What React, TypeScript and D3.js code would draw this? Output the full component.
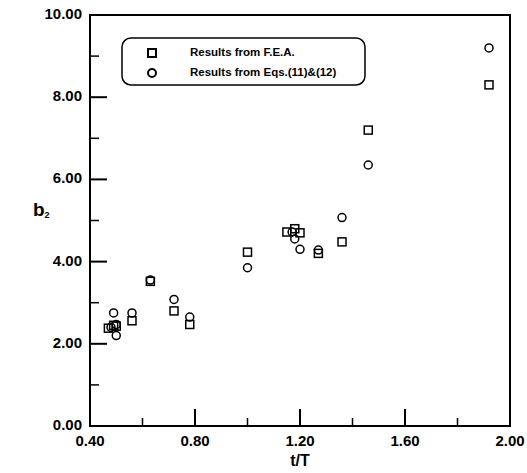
import * as d3 from "d3";

// t/T vs b2 scatter
const feaPoints: [number, number][] = [
  [0.47, 2.38], [0.49, 2.45], [0.5, 2.43], [0.56, 2.56], [0.63, 3.52],
  [0.72, 2.8], [0.78, 2.47], [1.0, 4.23], [1.15, 4.72], [1.18, 4.8],
  [1.2, 4.7], [1.27, 4.2], [1.36, 4.48], [1.46, 7.2], [1.92, 8.3],
];
const eqPoints: [number, number][] = [
  [0.48, 2.4], [0.49, 2.75], [0.5, 2.2], [0.5, 2.47], [0.56, 2.75],
  [0.63, 3.55], [0.72, 3.08], [0.78, 2.65], [1.0, 3.85], [1.17, 4.72],
  [1.18, 4.55], [1.2, 4.3], [1.27, 4.28], [1.36, 5.07], [1.46, 6.35],
  [1.92, 9.2],
];
const xTicks = [0.4, 0.8, 1.2, 1.6, 2.0];
const xMinor = [0.6, 1.0, 1.4, 1.8];
const yTicks = [0, 2, 4, 6, 8, 10];
const yMinor = [1, 3, 5, 7, 9];
const legendLabels = ["Results from F.E.A.", "Results from Eqs.(11)&(12)"];

const W = 527;
const H = 473;
const left = 90, right = 510, top = 15, bottom = 426;

export default function App() {
  const x = d3.scaleLinear().domain([0.4, 2.0]).range([left, right]);
  const y = d3.scaleLinear().domain([0, 10]).range([bottom, top]);
  const font = "'Liberation Sans', Arial, sans-serif";
  const ms = 8;

  return (
    <svg width={W} height={H} style={{ position: "absolute", left: 0, top: 0, background: "#fff" }}>
      <rect x={left} y={top} width={right - left} height={bottom - top} fill="none" stroke="#000" strokeWidth={2} />
      {xTicks.map((t) => (
        <g key={"xt" + t}>
          <line x1={x(t)} x2={x(t)} y1={bottom} y2={bottom - 17} stroke="#000" strokeWidth={2} />
          <text x={x(t)} y={442} textAnchor="middle" dominantBaseline="middle" fontFamily={font} fontSize={15} fontWeight="bold">
            {t.toFixed(2)}
          </text>
        </g>
      ))}
      {xMinor.map((t) => (
        <line key={"xm" + t} x1={x(t)} x2={x(t)} y1={bottom} y2={bottom - 8} stroke="#000" strokeWidth={1.5} />
      ))}
      {yTicks.map((t) => (
        <g key={"yt" + t}>
          <line x1={left} x2={left + 17} y1={y(t)} y2={y(t)} stroke="#000" strokeWidth={2} />
          <text x={82} y={y(t)} textAnchor="end" dominantBaseline="middle" fontFamily={font} fontSize={15} fontWeight="bold">
            {t.toFixed(2)}
          </text>
        </g>
      ))}
      {yMinor.map((t) => (
        <line key={"ym" + t} x1={left} x2={left + 9} y1={y(t)} y2={y(t)} stroke="#000" strokeWidth={1.5} />
      ))}
      <text x={300} y={462} textAnchor="middle" dominantBaseline="middle" fontFamily={font} fontSize={16} fontWeight="bold">
        t/T
      </text>
      <text x={33} y={216} fontFamily={font} fontSize={19} fontWeight="bold">
        b<tspan fontSize={9} dy={2}>2</tspan>
      </text>
      {feaPoints.map(([a, b], i) => (
        <rect key={"f" + i} x={x(a) - ms / 2} y={y(b) - ms / 2} width={ms} height={ms} fill="none" stroke="#000" strokeWidth={1.5} />
      ))}
      {eqPoints.map(([a, b], i) => (
        <circle key={"e" + i} cx={x(a)} cy={y(b)} r={ms / 2} fill="none" stroke="#000" strokeWidth={1.5} />
      ))}
      <rect x={122} y={38} width={243} height={47} rx={9} fill="#fff" stroke="#000" strokeWidth={1.5} />
      <rect x={148} y={49} width={8} height={8} fill="none" stroke="#000" strokeWidth={2} />
      <circle cx={152} cy={73} r={4} fill="none" stroke="#000" strokeWidth={2} />
      {legendLabels.map((l, i) => (
        <text key={l} x={190} y={53 + i * 20} dominantBaseline="middle" fontFamily={font} fontSize={11.5} fontWeight="bold">
          {l}
        </text>
      ))}
    </svg>
  );
}
